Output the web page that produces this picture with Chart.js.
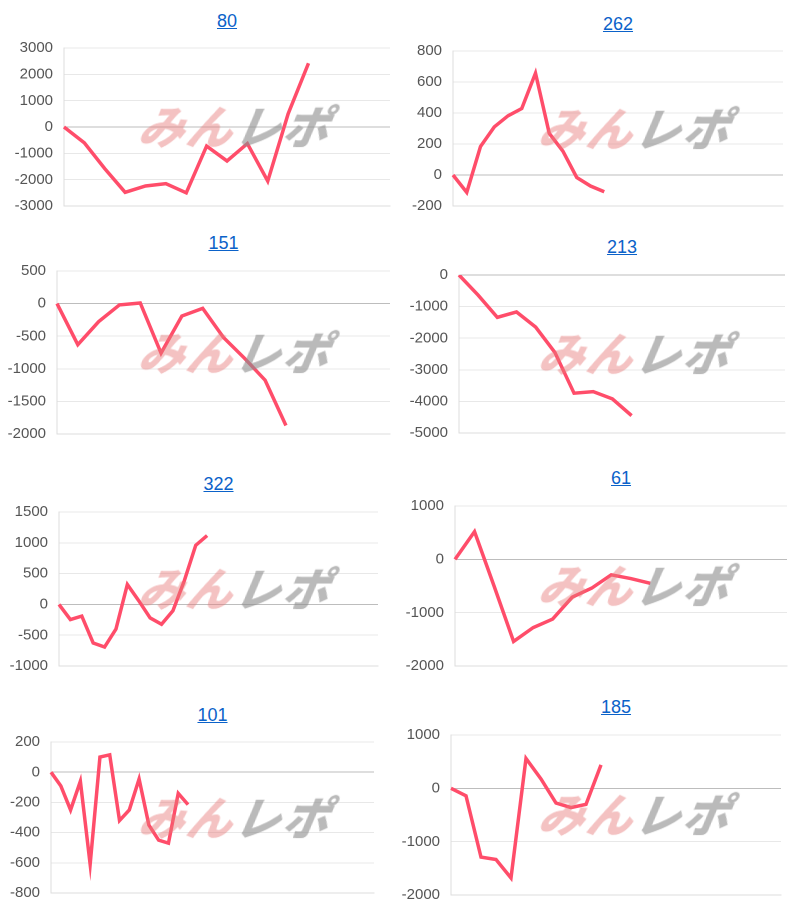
<!DOCTYPE html>
<html><head><meta charset="utf-8">
<script src="https://cdn.jsdelivr.net/npm/chart.js@4/dist/chart.umd.min.js"></script>
<style>
body{margin:0;width:800px;height:918px;background:#fff;position:relative;overflow:hidden;font-family:"Liberation Sans",Arial,sans-serif}
.box{position:absolute}
.ttl{position:absolute;font-size:18px;color:#0b62c9;text-decoration:underline;transform:translateX(-50%);white-space:nowrap}
.wm{position:absolute;font-weight:900;font-style:italic;font-size:46px;letter-spacing:2px;white-space:nowrap;pointer-events:none;z-index:2;transform:skewX(-10deg);font-family:"Noto Sans CJK JP",sans-serif}
.wm .a{color:rgba(230,120,120,0.45)}.wm .b{color:rgba(140,140,140,0.6)}
</style></head><body>
<script>
// titles
const titles = ["80","262","151","213","322","61","101","185"];
// series values (cumulative)
const s80  = [0,-605,-1580,-2480,-2240,-2150,-2500,-725,-1290,-630,-2055,500,2420];
const s262 = [0,-112,184,310,382,429,657,269,153,-16,-71,-108];
const s151 = [0,-630,-277,-20,10,-760,-190,-73,-520,-835,-1175,-1870];
const s213 = [0,-640,-1340,-1170,-1650,-2450,-3740,-3690,-3920,-4450];
const s322 = [0,-246,-190,-626,-692,-400,323,60,-220,-323,-103,385,959,1118];
const s61  = [0,520,-500,-1540,-1280,-1120,-710,-540,-290,-360,-450];
const s101 = [0,-90,-250,-60,-610,100,115,-320,-250,-45,-350,-450,-470,-140,-215];
const s185 = [0,-140,-1290,-1335,-1680,560,175,-275,-360,-300,440];
// category counts (game slots on x axis)
const slotCounts = [17,25,17,18,29,18,34,23];
// y tick ranges
const yMin  = [-3000,-200,-2000,-5000,-1000,-2000,-800,-2000];
const yMax  = [3000,800,500,0,1500,1000,200,1000];
const yStep = [1000,200,500,1000,500,1000,200,1000];

const series=[s80,s262,s151,s213,s322,s61,s101,s185];
// layout: [x0, titleY, plotTop, plotBottom, plotLeft, plotRight]
const lay=[
 [0,22,44,210,64,390],[400,25,47,210,453,783],
 [0,244,267,438,57,390],[400,248,271,437,459,785],
 [0,485,508,670,59,378],[400,479,502,670,455,787],
 [0,716,738,897,51,374],[400,708,731,899,451,781]
];
series.forEach((data,i)=>{
  const [x0,ty,pt,pb,pl,pr]=lay[i];
  const t=document.createElement('div');t.className='ttl';t.textContent=titles[i];
  t.style.left=((pl+pr)/2)+'px';t.style.top=(ty-11)+'px';document.body.appendChild(t);
  const top=pt-10, h=pb-pt+20;
  const box=document.createElement('div');box.className='box';
  box.style.left=x0+'px';box.style.top=top+'px';box.style.width='400px';box.style.height=h+'px';
  const c=document.createElement('canvas');c.width=400;c.height=h;
  c.style.width='400px';c.style.height=h+'px';
  box.appendChild(c);document.body.appendChild(box);
  const wm=document.createElement('div');wm.className='wm';
  wm.innerHTML='<span class="a">みん</span><span class="b">レポ</span>';
  wm.style.left=(x0+140)+'px';wm.style.top=(pt+(pb-pt)/2-36)+'px';document.body.appendChild(wm);
  const labels=Array.from({length:slotCounts[i]},(_,k)=>String(k+1));
  new Chart(c,{type:'line',
    data:{labels,datasets:[{data,borderColor:'#ff4d6a',borderWidth:3.5,pointRadius:0,tension:0,fill:false}]},
    options:{responsive:false,animation:false,devicePixelRatio:2,
      layout:{padding:{top:8,bottom:6,right:x0+400-pr,left:0}},
      plugins:{legend:{display:false},tooltip:{enabled:false}},
      scales:{
        x:{ticks:{display:false},grid:{display:false,drawTicks:false},border:{display:true,color:'#ddd'}},
        y:{min:yMin[i],max:yMax[i],afterFit:(s)=>{s.width=pl-x0;},
          ticks:{stepSize:yStep[i],color:'#555',font:{size:15,family:'"Liberation Sans",Arial'},padding:5,callback:(v)=>String(v)},
          grid:{color:(ctx)=>ctx.tick&&ctx.tick.value===0?'#bdbdbd':'#e8e8e8',drawTicks:true,tickLength:6,tickColor:'rgba(0,0,0,0)'},
          border:{display:true,color:'#ddd'}}
      }}});
});
</script>
</body></html>
